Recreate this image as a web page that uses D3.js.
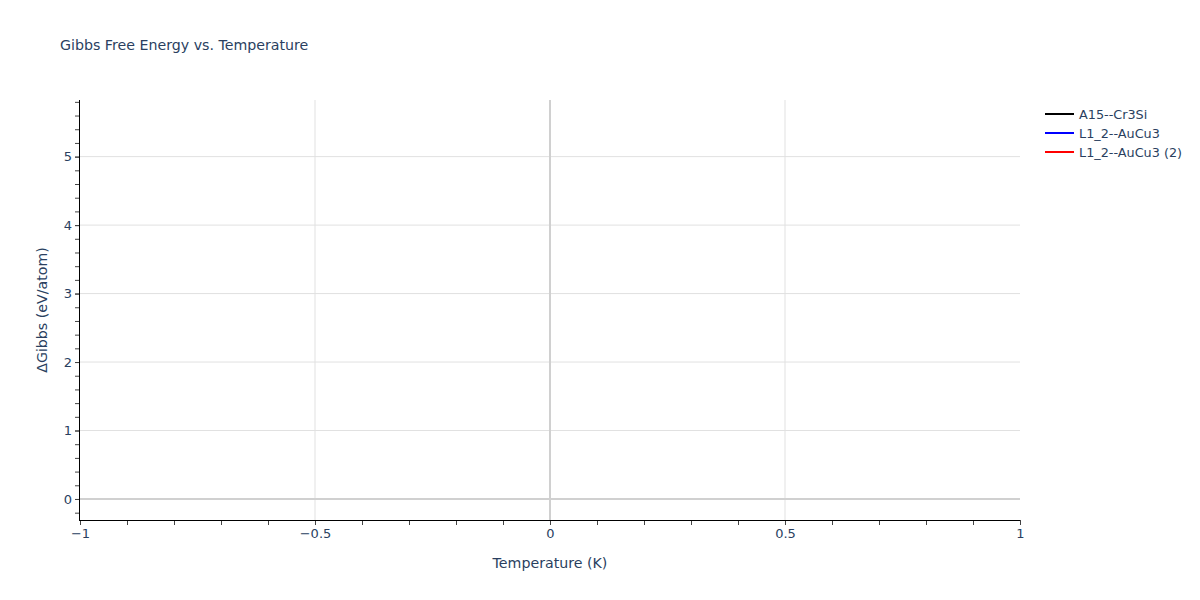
<!DOCTYPE html>
<html>
<head>
<meta charset="utf-8">
<script src="https://cdn.jsdelivr.net/npm/d3@7"></script>
<style>
  body { margin: 0; background: #fff; }
  svg text { font-family: "DejaVu Sans", Verdana, sans-serif; fill: #2a3f5f; }
</style>
</head>
<body>
<svg id="chart" width="1200" height="600"></svg>
<script>
// Series shown in the legend; the traces carry no points in the picture
const seriesNames = ['A15--Cr3Si', 'L1_2--AuCu3', 'L1_2--AuCu3 (2)']
const seriesColors = ['#000000', '#0000ff', '#ff0000']
const seriesTemps = [[], [], []]
const seriesGibbs = [[], [], []]

const xRange = [-1, 1]
const yRange = [-0.307, 5.827]
const xTicks = [-1, -0.5, 0, 0.5, 1]
const yTicks = [0, 1, 2, 3, 4, 5]

const margin = { top: 100, right: 180, bottom: 80, left: 80 }
const width = 1200, height = 600
const plotW = width - margin.left - margin.right
const plotH = height - margin.top - margin.bottom

const svg = d3.select('#chart')

const x = d3.scaleLinear().domain(xRange).range([margin.left, margin.left + plotW])
const y = d3.scaleLinear().domain(yRange).range([margin.top + plotH, margin.top])

const fmt = d => (d < 0 ? '\u2212' + Math.abs(d) : String(d))

// grid lines
const grid = svg.append('g')
grid.selectAll('line.gx')
  .data(xTicks.filter(d => d !== 0 && d !== xRange[0] && d !== xRange[1]))
  .enter().append('line')
  .attr('x1', d => x(d)).attr('x2', d => x(d))
  .attr('y1', margin.top).attr('y2', margin.top + plotH)
  .style('stroke', '#e1e1e1').style('stroke-width', 1)
grid.selectAll('line.gy')
  .data(yTicks.filter(d => d !== 0))
  .enter().append('line')
  .attr('x1', margin.left).attr('x2', margin.left + plotW)
  .attr('y1', d => y(d)).attr('y2', d => y(d))
  .style('stroke', '#e1e1e1').style('stroke-width', 1)

// zero lines
grid.append('line')
  .attr('x1', x(0)).attr('x2', x(0))
  .attr('y1', margin.top).attr('y2', margin.top + plotH)
  .style('stroke', '#d0d0d0').style('stroke-width', 2)
grid.append('line')
  .attr('x1', margin.left).attr('x2', margin.left + plotW)
  .attr('y1', y(0)).attr('y2', y(0))
  .style('stroke', '#d0d0d0').style('stroke-width', 2)

// traces
const line = d3.line().x(d => x(d[0])).y(d => y(d[1]))
svg.append('g').selectAll('path')
  .data(seriesNames.map((n, i) => d3.zip(seriesTemps[i], seriesGibbs[i])))
  .enter().append('path')
  .attr('d', d => line(d))
  .style('fill', 'none')
  .style('stroke', (d, i) => seriesColors[i])
  .style('stroke-width', 2)

// axes
const xAxis = d3.axisBottom(x).tickValues(xTicks).tickFormat(fmt).tickSize(5).tickPadding(4)
const xMinor = d3.axisBottom(x).tickValues(d3.range(-10, 11).map(d => d / 10)).tickFormat('').tickSize(5)
const yAxis = d3.axisLeft(y).tickValues(yTicks).tickFormat(fmt).tickSize(5).tickPadding(3)
const yMinor = d3.axisLeft(y).tickValues(d3.range(-1, 30).map(d => d / 5)).tickFormat('').tickSize(5)

function styleAxis(g) {
  g.select('.domain').remove()
  g.selectAll('.tick line').style('stroke', '#444')
  g.selectAll('.tick text').style('font-size', '13px').style('fill', '#2a3f5f')
    .style('font-family', '"DejaVu Sans", Verdana, sans-serif')
}

const bottom = margin.top + plotH
svg.append('g').attr('transform', `translate(0, ${bottom})`).call(xMinor).call(styleAxis)
svg.append('g').attr('transform', `translate(0, ${bottom})`).call(xAxis).call(styleAxis)
svg.append('g').attr('transform', `translate(${margin.left}, 0)`).call(yMinor).call(styleAxis)
svg.append('g').attr('transform', `translate(${margin.left}, 0)`).call(yAxis).call(styleAxis)

svg.append('line')
  .attr('x1', margin.left - 1).attr('x2', margin.left + plotW)
  .attr('y1', bottom + 0.5).attr('y2', bottom + 0.5)
  .style('stroke', '#000').style('stroke-width', 1)
svg.append('line')
  .attr('x1', margin.left - 0.5).attr('x2', margin.left - 0.5)
  .attr('y1', margin.top).attr('y2', bottom + 1)
  .style('stroke', '#000').style('stroke-width', 1)

// titles
svg.append('text')
  .attr('x', 60).attr('y', 50)
  .style('font-size', '14.2px')
  .text('Gibbs Free Energy vs. Temperature')

svg.append('text')
  .attr('x', margin.left + plotW / 2).attr('y', 568)
  .attr('text-anchor', 'middle')
  .style('font-size', '14.2px')
  .text('Temperature (K)')

svg.append('text')
  .attr('transform', `translate(47, ${margin.top + plotH / 2}) rotate(-90)`)
  .attr('text-anchor', 'middle')
  .style('font-size', '14.2px')
  .text('\u0394Gibbs (eV/atom)')

// legend
const legend = svg.append('g').attr('transform', 'translate(1045, 114)')
const items = legend.selectAll('g').data(seriesNames).enter().append('g')
  .attr('transform', (d, i) => `translate(0, ${i * 19})`)
items.append('line')
  .attr('x1', 0).attr('x2', 29).attr('y1', 0).attr('y2', 0)
  .style('stroke', (d, i) => seriesColors[i]).style('stroke-width', 2)
items.append('text')
  .attr('x', 34).attr('y', 4.5)
  .style('font-size', '12.8px')
  .text(d => d)
</script>
</body>
</html>
